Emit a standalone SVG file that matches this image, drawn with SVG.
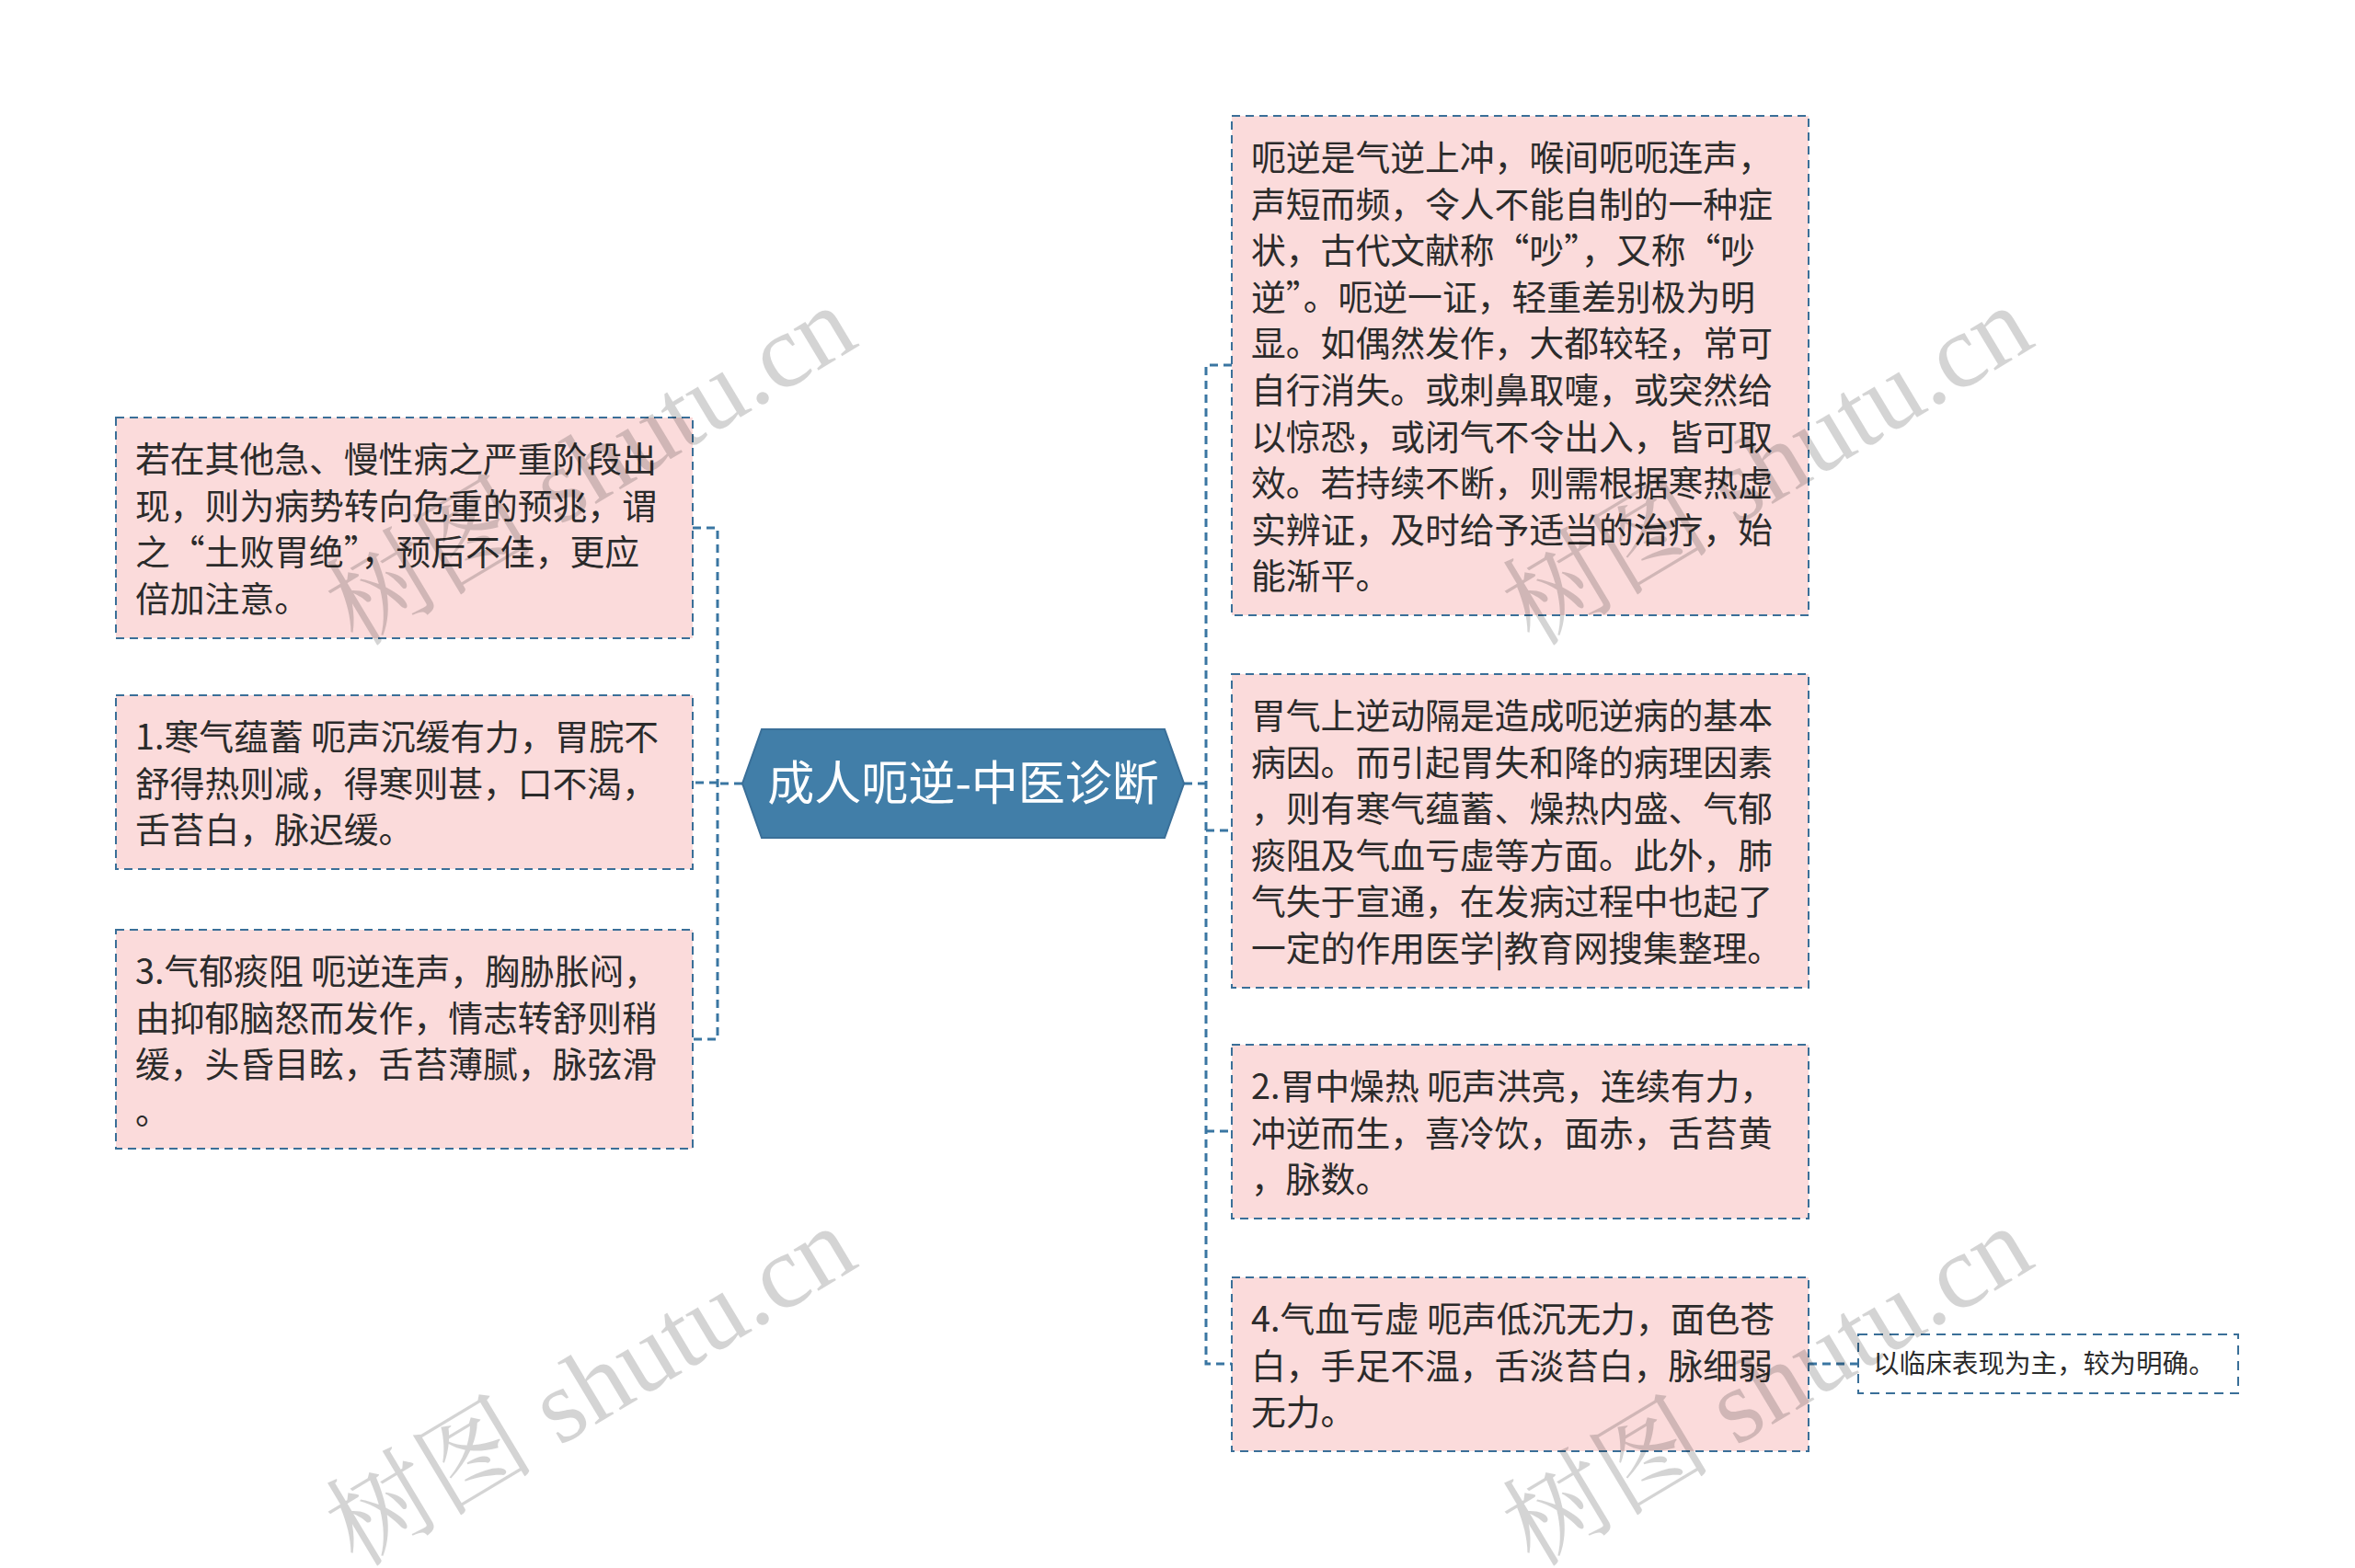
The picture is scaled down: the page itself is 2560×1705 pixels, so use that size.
<svg xmlns="http://www.w3.org/2000/svg" width="2560" height="1705" viewBox="0 0 2560 1705">
<style>
.box{fill:#fbdbdb;stroke:#3a6f98;stroke-width:2;stroke-dasharray:9 6;}
.sbox{fill:#ffffff;stroke:#3a6f98;stroke-width:2;stroke-dasharray:10 7;}
.conn{fill:none;stroke:#3a76a2;stroke-width:3;stroke-dasharray:9 6;}
.t{font-family:"Noto Sans CJK SC","Noto Sans",sans-serif;font-size:37.8px;fill:#2b2b2b;}
.st{font-family:"Noto Sans CJK SC","Noto Sans",sans-serif;font-size:28.6px;fill:#2b2b2b;}
.ct{font-family:"Noto Sans CJK SC","Noto Sans",sans-serif;font-size:51px;fill:#ffffff;}
.wm{font-family:"Liberation Serif","Noto Serif CJK SC","Noto Sans CJK SC",serif;font-size:114px;fill:#000000;fill-opacity:0.17;}
</style>
<rect width="2560" height="1705" fill="#ffffff"/>
<g id="connectors">
<path class="conn" d="M807,852 H780 M753,574 H780 V1130 H753 M780,851 H753"/>
<path class="conn" d="M1287,852 H1311 M1339,397 H1311 V1483 H1339 M1311,903 H1339 M1311,1230 H1339"/>
<path class="conn" d="M1966,1483 H2020"/>
</g>
<g id="center">
<polygon points="807,852 828,793 1266,793 1287,852 1266,911 828,911" fill="#417ea8" stroke="#3a6f98" stroke-width="2"/>
<text class="ct" x="1047" y="870" text-anchor="middle">成人呃逆-中医诊断</text>
</g>
<g id="L1">
<rect class="box" x="126" y="454" width="627" height="240"/>
<text class="t" x="147" y="513">若在其他急、慢性病之严重阶段出</text>
<text class="t" x="147" y="563.6">现，则为病势转向危重的预兆，谓</text>
<text class="t" x="147" y="614.2">之“土败胃绝”，预后不佳，更应</text>
<text class="t" x="147" y="664.8">倍加注意。</text>
</g>
<g id="L2">
<rect class="box" x="126" y="756" width="627" height="189"/>
<text class="t" x="147" y="815">1.寒气蕴蓄 呃声沉缓有力，胃脘不</text>
<text class="t" x="147" y="865.6">舒得热则减，得寒则甚，口不渴，</text>
<text class="t" x="147" y="916.2">舌苔白，脉迟缓。</text>
</g>
<g id="L3">
<rect class="box" x="126" y="1011" width="627" height="238"/>
<text class="t" x="147" y="1070">3.气郁痰阻 呃逆连声，胸胁胀闷，</text>
<text class="t" x="147" y="1120.6">由抑郁脑怒而发作，情志转舒则稍</text>
<text class="t" x="147" y="1171.2">缓，头昏目眩，舌苔薄腻，脉弦滑</text>
<text class="t" x="147" y="1221.8">。</text>
</g>
<g id="R1">
<rect class="box" x="1339" y="126" width="627" height="543"/>
<text class="t" x="1360" y="185">呃逆是气逆上冲，喉间呃呃连声，</text>
<text class="t" x="1360" y="235.6">声短而频，令人不能自制的一种症</text>
<text class="t" x="1360" y="286.2">状，古代文献称“吵”，又称“吵</text>
<text class="t" x="1360" y="336.8">逆”。呃逆一证，轻重差别极为明</text>
<text class="t" x="1360" y="387.4">显。如偶然发作，大都较轻，常可</text>
<text class="t" x="1360" y="438">自行消失。或刺鼻取嚏，或突然给</text>
<text class="t" x="1360" y="488.6">以惊恐，或闭气不令出入，皆可取</text>
<text class="t" x="1360" y="539.2">效。若持续不断，则需根据寒热虚</text>
<text class="t" x="1360" y="589.8">实辨证，及时给予适当的治疗，始</text>
<text class="t" x="1360" y="640.4">能渐平。</text>
</g>
<g id="R2">
<rect class="box" x="1339" y="733" width="627" height="341"/>
<text class="t" x="1360" y="792">胃气上逆动隔是造成呃逆病的基本</text>
<text class="t" x="1360" y="842.6">病因。而引起胃失和降的病理因素</text>
<text class="t" x="1360" y="893.2">，则有寒气蕴蓄、燥热内盛、气郁</text>
<text class="t" x="1360" y="943.8">痰阻及气血亏虚等方面。此外，肺</text>
<text class="t" x="1360" y="994.4">气失于宣通，在发病过程中也起了</text>
<text class="t" x="1360" y="1045">一定的作用医学|教育网搜集整理。</text>
</g>
<g id="R3">
<rect class="box" x="1339" y="1136" width="627" height="189"/>
<text class="t" x="1360" y="1195">2.胃中燥热 呃声洪亮，连续有力，</text>
<text class="t" x="1360" y="1245.6">冲逆而生，喜冷饮，面赤，舌苔黄</text>
<text class="t" x="1360" y="1296.2">，脉数。</text>
</g>
<g id="R4">
<rect class="box" x="1339" y="1389" width="627" height="189"/>
<text class="t" x="1360" y="1448">4.气血亏虚 呃声低沉无力，面色苍</text>
<text class="t" x="1360" y="1498.6">白，手足不温，舌淡苔白，脉细弱</text>
<text class="t" x="1360" y="1549.2">无力。</text>
</g>
<g id="R4a">
<rect class="sbox" x="2020" y="1451" width="413" height="64"/>
<text class="st" x="2036" y="1493">以临床表现为主，较为明确。</text>
</g>
<g id="watermarks">
<text class="wm" x="642" y="545" text-anchor="middle" transform="rotate(-31 642 506)">树图 shutu.cn</text>
<text class="wm" x="642" y="1546" text-anchor="middle" transform="rotate(-31 642 1507)">树图 shutu.cn</text>
<text class="wm" x="1921" y="545" text-anchor="middle" transform="rotate(-31 1921 506)">树图 shutu.cn</text>
<text class="wm" x="1921" y="1546" text-anchor="middle" transform="rotate(-31 1921 1507)">树图 shutu.cn</text>
</g>
</svg>
